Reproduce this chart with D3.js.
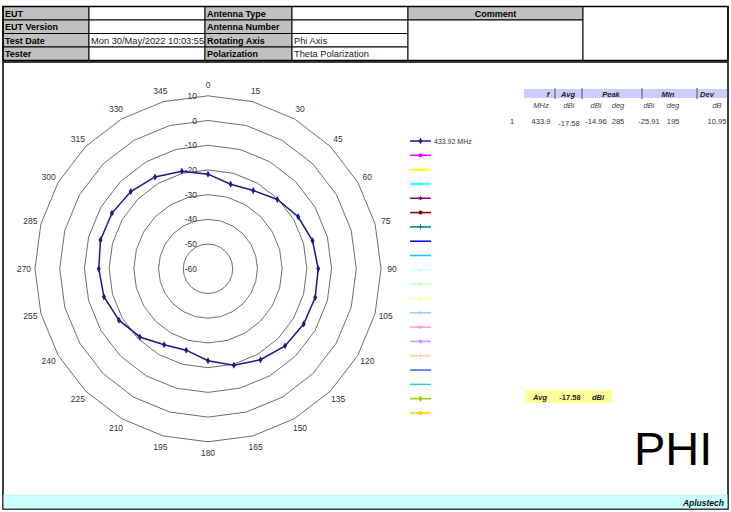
<!DOCTYPE html>
<html>
<head>
<meta charset="utf-8">
<script src="https://cdn.jsdelivr.net/npm/d3@7"></script>
<style>
  body { margin: 0; background: #fff; }
  svg { display: block; font-family: "Liberation Sans", Arial, sans-serif; }
</style>
</head>
<body>
<svg id="chart" width="731" height="512"></svg>
<script>
// header table
var infoLeft = ["EUT", "EUT Version", "Test Date", "Tester"];
var infoLeftVal = ["", "", "Mon 30/May/2022 10:03:55", ""];
var infoRight = ["Antenna Type", "Antenna Number", "Rotating Axis", "Polarization"];
var infoRightVal = ["", "", "Phi Axis", "Theta Polarization"];

// polar data (phi angle, gain in dBi)
var angles = [0, 15, 30, 45, 60, 75, 90, 105, 120, 135, 150, 165,
              180, 195, 210, 225, 240, 255, 270, 285, 300, 315, 330, 345];
var gain = [-21.7, -24.6, -23.4, -20.3, -17.9, -16.2, -15.4, -15.1, -15.3, -15.9, -17.5, -19.6,
            -22.8, -25.91, -24.5, -21.0, -18.4, -16.4, -15.8, -14.96, -15.1, -15.8, -17.1, -19.1];
var ringTicks = [-60, -50, -40, -30, -20, -10, 0, 10];

// summary table
var sumHeads = ["f", "Avg", "Peak", "Min", "Dev"];
var sumUnits = ["MHz", "dBi", "dBi", "deg", "dBi", "deg", "dB"];
var sumRow = ["1", "433.9", "-17.58", "-14.96", "285", "-25.91", "195", "10.95"];
var avgBox = ["Avg", "-17.58", "dBi"];

// legend
var seriesNames = ["433.92 MHz", "", "", "", "", "", "", "", "", "", "", "", "", "", "", "", "", "", "", ""];
var seriesColors = ["#1a1a8a", "#ff00ff", "#ffff00", "#00ffff", "#800080", "#800000", "#008080", "#0000ff",
                    "#00ccff", "#ccffff", "#ccffcc", "#ffff99", "#99ccff", "#ff99cc", "#cc99ff", "#ffcc99",
                    "#3366ff", "#33cccc", "#99cc00", "#ffcc00"];
var seriesMarks = ["diamond", "square", "triangle", "times", "asterisk", "circle", "plus", "none",
                   "none", "diamond", "square", "triangle", "times", "asterisk", "circle", "plus",
                   "none", "none", "diamond", "square"];

var svg = d3.select("#chart");

/*** header table ***/
var rowY = d3.scaleLinear().domain([0, 4]).range([6.5, 60.5]);
var rowH = rowY(1) - rowY(0);
var colX = [3, 89, 205, 292, 408, 583, 728];
var head = svg.append("g");

function cell(x0, x1, y0, h, fill) {
  head.append("rect").attr("x", x0).attr("y", y0).attr("width", x1 - x0).attr("height", h)
    .attr("fill", fill).attr("stroke", "#000").attr("stroke-width", 1);
}
infoLeft.forEach(function (t, i) {
  var y = rowY(i);
  cell(colX[0], colX[1], y, rowH, "#c0c0c0");
  cell(colX[1], colX[2], y, rowH, "#fff");
  cell(colX[2], colX[3], y, rowH, "#c0c0c0");
  cell(colX[3], colX[4], y, rowH, "#fff");
});
cell(colX[4], colX[5], rowY(0), rowH, "#c0c0c0");
cell(colX[4], colX[5], rowY(1), rowH * 3, "#fff");
cell(colX[5], colX[6], rowY(0), rowH * 4, "#fff");
head.append("rect").attr("x", colX[0]).attr("y", rowY(0)).attr("width", colX[6] - colX[0])
  .attr("height", rowH * 4).attr("fill", "none").attr("stroke", "#000").attr("stroke-width", 1.5);

function txt(g, s, x, y, o) {
  o = o || {};
  return g.append("text").attr("x", x).attr("y", y).text(s)
    .attr("font-size", o.size || 9)
    .attr("font-weight", o.bold ? "bold" : null)
    .attr("font-style", o.italic ? "italic" : null)
    .attr("text-anchor", o.anchor || "start")
    .attr("fill", o.fill || "#000");
}
infoLeft.forEach(function (t, i) {
  var y = rowY(i) + rowH - 3.5;
  txt(head, t, colX[0] + 2, y, { bold: true });
  txt(head, infoLeftVal[i], colX[1] + 2, y, { size: 9.3, fill: "#222" });
  txt(head, infoRight[i], colX[2] + 2, y, { bold: true });
  txt(head, infoRightVal[i], colX[3] + 2, y, { size: 9.3, fill: "#222" });
});
txt(head, "Comment", (colX[4] + colX[5]) / 2, rowY(0) + rowH - 3.5, { bold: true, anchor: "middle" });

/*** main frame ***/
svg.append("rect").attr("x", 3).attr("y", 62).attr("width", 725).attr("height", 447)
  .attr("fill", "none").attr("stroke", "#000").attr("stroke-width", 1.5);
svg.append("rect").attr("x", 3.5).attr("y", 495).attr("width", 724).attr("height", 13.5)
  .attr("fill", "#ccffff");
svg.append("line").attr("x1", 3).attr("x2", 728).attr("y1", 495).attr("y2", 495)
  .attr("stroke", "#aadddd").attr("stroke-width", 0.5);
txt(svg, "Aplustech", 724, 506, { size: 8.5, bold: true, italic: true, anchor: "end", fill: "#111" });

/*** polar chart ***/
var cx = 208, cy = 268.8;
var rScale = d3.scaleLinear().domain([-60, 10]).range([0, 173]);
var aScale = d3.scaleLinear().domain([0, 360]).range([0, 2 * Math.PI]);
var polar = svg.append("g").attr("transform", "translate(" + cx + "," + cy + ")");

polar.selectAll(".ring")
  .data(ringTicks.filter(function (d) { return d > -60; }))
  .join("path")
  .attr("class", "ring")
  .attr("d", function (v) {
    return d3.lineRadial().curve(d3.curveLinearClosed)
      .angle(function (a) { return aScale(a); })
      .radius(rScale(v))(angles);
  })
  .attr("fill", "none").attr("stroke", "#6e6e6e").attr("stroke-width", 1);

polar.selectAll(".rlab")
  .data(ringTicks)
  .join("text")
  .attr("class", "rlab")
  .attr("x", -11)
  .attr("y", function (v) { return -rScale(v); })
  .attr("dy", "0.35em")
  .attr("text-anchor", "end")
  .attr("font-size", 8.5)
  .attr("fill", "#333")
  .text(function (v) { return v; });

polar.selectAll(".alab")
  .data(angles)
  .join("text")
  .attr("class", "alab")
  .attr("x", function (a) { return 184 * Math.sin(aScale(a)); })
  .attr("y", function (a) { return -184 * Math.cos(aScale(a)); })
  .attr("dy", "0.35em")
  .attr("text-anchor", "middle")
  .attr("font-size", 8.5)
  .attr("fill", "#333")
  .text(function (a) { return a; });

var pts = angles.map(function (a, i) { return [a, gain[i]]; });
polar.append("path")
  .attr("d", d3.lineRadial().curve(d3.curveLinearClosed)
    .angle(function (d) { return aScale(d[0]); })
    .radius(function (d) { return rScale(d[1]); })(pts))
  .attr("fill", "none").attr("stroke", seriesColors[0]).attr("stroke-width", 1.5);

polar.selectAll(".pt")
  .data(pts)
  .join("path")
  .attr("class", "pt")
  .attr("transform", function (d) {
    var r = rScale(d[1]), t = aScale(d[0]);
    return "translate(" + (r * Math.sin(t)) + "," + (-r * Math.cos(t)) + ")";
  })
  .attr("d", d3.symbol(d3.symbolDiamond, 14))
  .attr("fill", seriesColors[0]);

/*** legend ***/
var legY = d3.scaleLinear().domain([0, seriesColors.length - 1]).range([141, 413]);
var symbolMap = {
  diamond: d3.symbolDiamond, square: d3.symbolSquare, triangle: d3.symbolTriangle,
  times: d3.symbolTimes, asterisk: d3.symbolAsterisk, circle: d3.symbolCircle, plus: d3.symbolPlus
};
var strokeMarks = ["times", "asterisk", "plus"];
var leg = svg.append("g");
seriesColors.forEach(function (c, i) {
  var y = legY(i);
  leg.append("line").attr("x1", 410).attr("x2", 431).attr("y1", y).attr("y2", y)
    .attr("stroke", c).attr("stroke-width", 1.5);
  var m = seriesMarks[i];
  if (m !== "none") {
    var isStroke = strokeMarks.indexOf(m) >= 0;
    leg.append("path").attr("transform", "translate(420.5," + y + ")")
      .attr("d", d3.symbol(symbolMap[m], isStroke ? 10 : 13))
      .attr("fill", isStroke ? "none" : c)
      .attr("stroke", isStroke ? c : "none")
      .attr("stroke-width", 1);
  }
  if (seriesNames[i]) txt(leg, seriesNames[i], 434, y + 2.5, { size: 7, fill: "#333" });
});

/*** summary table ***/
var sum = svg.append("g");
var sumSep = [524, 555, 582, 642, 697, 727];
sum.append("rect").attr("x", sumSep[0]).attr("y", 89).attr("width", sumSep[5] - sumSep[0])
  .attr("height", 9).attr("fill", "#ccccff");
sumSep.slice(1, 5).forEach(function (x) {
  sum.append("line").attr("x1", x).attr("x2", x).attr("y1", 88).attr("y2", 99)
    .attr("stroke", "#555").attr("stroke-width", 1);
});
var headX = [548, 568, 611, 668, 707];
sumHeads.forEach(function (t, i) {
  txt(sum, t, headX[i], 96.5, { size: 7.5, bold: true, italic: true, anchor: "middle", fill: "#222" });
});
var colC = [541, 569, 596, 618, 649, 673, 717];
sumUnits.forEach(function (t, i) {
  txt(sum, t, colC[i], 108, { size: 7.5, italic: true, anchor: "middle", fill: "#444" });
});
txt(sum, sumRow[0], 512, 123.5, { size: 7.5, anchor: "middle", fill: "#333" });
sumRow.slice(1).forEach(function (t, i) {
  txt(sum, t, colC[i], i === 1 ? 125.5 : 123.5, { size: 7.5, anchor: "middle", fill: "#333" });
});

sum.append("rect").attr("x", 525).attr("y", 390).attr("width", 87).attr("height", 13)
  .attr("fill", "#ffff99");
[540, 570, 598].forEach(function (x, i) {
  txt(sum, avgBox[i], x, 399.5, { size: 7.5, bold: true, italic: i !== 1, anchor: "middle", fill: "#222" });
});

/*** big label ***/
txt(svg, "PHI", 634, 465, { size: 47, anchor: "start", fill: "#000" });
</script>
</body>
</html>
